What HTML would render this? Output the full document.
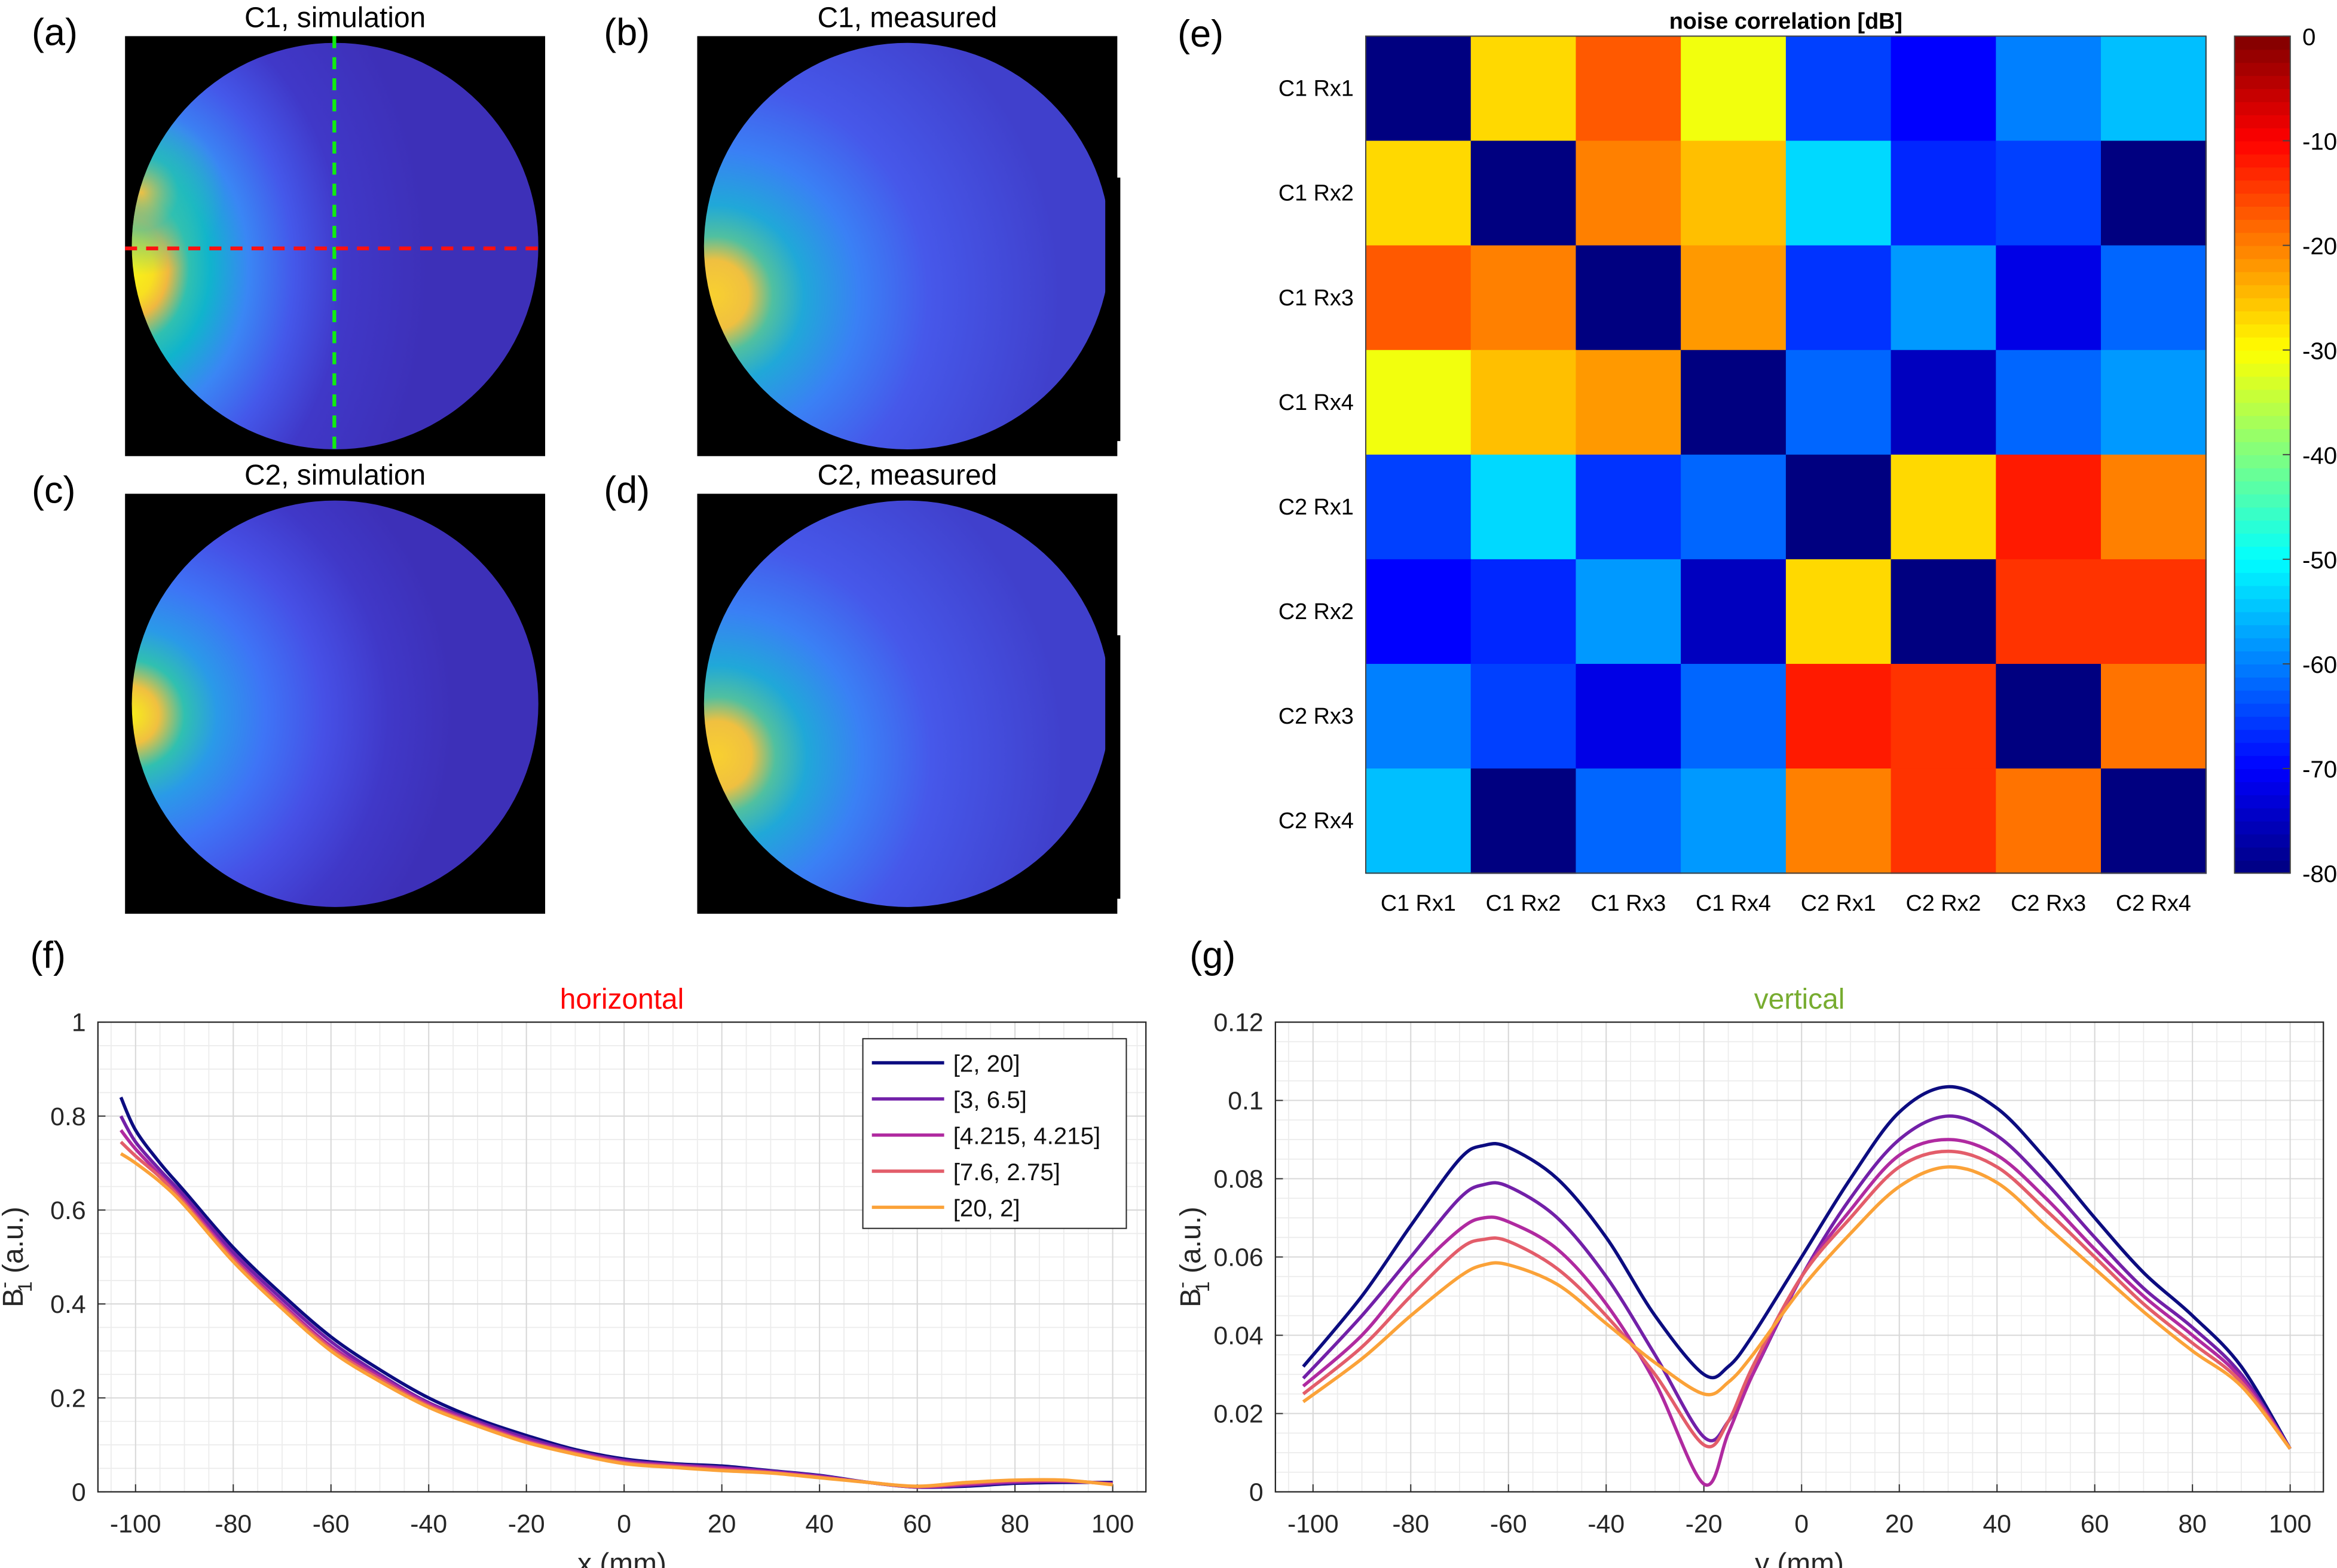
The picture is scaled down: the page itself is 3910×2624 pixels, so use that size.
<!DOCTYPE html>
<html><head><meta charset="utf-8">
<style>
html,body{margin:0;padding:0;background:#fff;}
svg{display:block;font-family:"Liberation Sans",Arial,sans-serif;}
</style></head>
<body>
<svg id="fig" width="3910" height="2624" viewBox="0 0 1552 1041.6" xmlns="http://www.w3.org/2000/svg">
<defs>
<radialGradient id="hotA" cx="86" cy="178" r="220" gradientUnits="userSpaceOnUse" gradientTransform="translate(86 178) scale(0.9 1.15) translate(-86 -178)">
<stop offset="0" stop-color="#f8f518"/><stop offset="0.08" stop-color="#f8e020"/><stop offset="0.13" stop-color="#f0b840"/><stop offset="0.2" stop-color="#30c0b0"/><stop offset="0.27" stop-color="#10b4cc"/><stop offset="0.4" stop-color="#3a86f4"/><stop offset="0.55" stop-color="#4458ea"/><stop offset="0.72" stop-color="#4038c8"/><stop offset="1" stop-color="#3d30b8"/></radialGradient>
<radialGradient id="hotA2" cx="94" cy="128" r="55" gradientUnits="userSpaceOnUse">
<stop offset="0" stop-color="#f5c040" stop-opacity="0.95"/><stop offset="0.45" stop-color="#30c0b0" stop-opacity="0.6"/><stop offset="1" stop-color="#30c0b0" stop-opacity="0"/></radialGradient>
<radialGradient id="hotB" cx="474" cy="196" r="230" gradientUnits="userSpaceOnUse">
<stop offset="0" stop-color="#f8d030"/><stop offset="0.1" stop-color="#f0c040"/><stop offset="0.17" stop-color="#50c0a0"/><stop offset="0.26" stop-color="#20a8d8"/><stop offset="0.42" stop-color="#3a80f5"/><stop offset="0.62" stop-color="#4658ea"/><stop offset="1" stop-color="#4040cc"/></radialGradient>
<radialGradient id="hotC" cx="86" cy="475" r="215" gradientUnits="userSpaceOnUse">
<stop offset="0" stop-color="#f8f018"/><stop offset="0.09" stop-color="#f0c040"/><stop offset="0.17" stop-color="#30c0b0"/><stop offset="0.27" stop-color="#2a9ae8"/><stop offset="0.42" stop-color="#3e74f6"/><stop offset="0.6" stop-color="#4650e6"/><stop offset="0.8" stop-color="#4038c8"/><stop offset="1" stop-color="#3d30b8"/></radialGradient>
<radialGradient id="hotD" cx="476" cy="502" r="230" gradientUnits="userSpaceOnUse">
<stop offset="0" stop-color="#f8d030"/><stop offset="0.1" stop-color="#f0c040"/><stop offset="0.17" stop-color="#50c0a0"/><stop offset="0.26" stop-color="#20a8d8"/><stop offset="0.42" stop-color="#3a80f5"/><stop offset="0.62" stop-color="#4658ea"/><stop offset="1" stop-color="#4040cc"/></radialGradient>
</defs>
<g id="images"></g>
<g id="heat"></g>
<g id="plotf"></g>
<g id="plotg"></g>
</svg>
<script>
// ===== Heatmap data =====
const heatLabels = ["C1 Rx1","C1 Rx2","C1 Rx3","C1 Rx4","C2 Rx1","C2 Rx2","C2 Rx3","C2 Rx4"];
const heatRow1 = [-80,-27,-17,-31,-65,-70,-60,-55];
const heatRow2 = [-27,-80,-20,-25,-53,-67,-65,-80];
const heatRow3 = [-17,-20,-80,-22,-66,-58,-72,-62];
const heatRow4 = [-31,-25,-22,-80,-62,-75,-62,-58];
const heatRow5 = [-65,-53,-66,-62,-80,-27,-12,-20];
const heatRow6 = [-70,-67,-58,-75,-27,-80,-14,-14];
const heatRow7 = [-60,-65,-72,-62,-12,-14,-80,-19];
const heatRow8 = [-55,-80,-62,-58,-20,-14,-19,-80];
const colorbarTicks = [0,-10,-20,-30,-40,-50,-60,-70,-80];

// ===== Horizontal profile data =====
const hX = [-103,-100,-95,-90,-80,-70,-60,-50,-40,-30,-20,-10,0,10,20,30,40,50,60,70,80,90,100];
const h_2_20   = [0.84,0.77,0.70,0.64,0.52,0.42,0.33,0.26,0.20,0.155,0.12,0.09,0.07,0.06,0.055,0.045,0.035,0.02,0.01,0.012,0.018,0.02,0.02];
const h_3_65   = [0.80,0.745,0.685,0.63,0.51,0.41,0.32,0.25,0.19,0.15,0.115,0.087,0.067,0.058,0.052,0.044,0.034,0.02,0.01,0.014,0.02,0.022,0.018];
const h_4_4    = [0.77,0.73,0.675,0.62,0.50,0.40,0.31,0.245,0.187,0.146,0.11,0.084,0.064,0.056,0.05,0.042,0.032,0.02,0.011,0.016,0.022,0.023,0.017];
const h_76_275 = [0.745,0.715,0.67,0.615,0.495,0.395,0.305,0.24,0.183,0.143,0.107,0.082,0.062,0.054,0.047,0.041,0.031,0.02,0.011,0.018,0.024,0.024,0.016];
const h_20_2   = [0.72,0.70,0.66,0.61,0.49,0.39,0.30,0.235,0.18,0.14,0.105,0.08,0.06,0.052,0.045,0.04,0.03,0.02,0.012,0.02,0.025,0.025,0.015];
const hTicksX = [-100,-80,-60,-40,-20,0,20,40,60,80,100];
const hTicksY = [0,0.2,0.4,0.6,0.8,1];
const legendLabels = ["[2, 20]","[3, 6.5]","[4.215, 4.215]","[7.6, 2.75]","[20, 2]"];

// ===== Vertical profile data =====
const vX = [-102,-90,-80,-70,-65,-60,-50,-40,-30,-20,-15,-10,0,10,20,30,40,50,60,70,80,90,100];
const v_2_20   = [0.032,0.05,0.068,0.085,0.0885,0.088,0.08,0.065,0.045,0.03,0.032,0.04,0.06,0.08,0.097,0.1035,0.098,0.085,0.07,0.056,0.045,0.032,0.011];
const v_3_65   = [0.029,0.045,0.06,0.075,0.0785,0.078,0.07,0.055,0.035,0.014,0.018,0.03,0.055,0.075,0.09,0.096,0.091,0.079,0.065,0.052,0.042,0.03,0.011];
const v_4_4    = [0.027,0.04,0.055,0.067,0.07,0.069,0.062,0.048,0.028,0.002,0.015,0.03,0.055,0.072,0.086,0.09,0.086,0.075,0.062,0.05,0.04,0.029,0.011];
const v_76_275 = [0.025,0.037,0.05,0.062,0.0645,0.064,0.057,0.045,0.03,0.012,0.018,0.032,0.055,0.07,0.083,0.087,0.083,0.072,0.06,0.048,0.038,0.028,0.011];
const v_20_2   = [0.023,0.034,0.045,0.055,0.058,0.058,0.053,0.043,0.033,0.025,0.028,0.035,0.052,0.066,0.078,0.083,0.079,0.068,0.057,0.046,0.036,0.027,0.011];
const vTicksX = [-100,-80,-60,-40,-20,0,20,40,60,80,100];
const vTicksY = [0,0.02,0.04,0.06,0.08,0.1,0.12];

const seriesColors = ["#0c0c80","#7220a8","#b02aa0","#e35d6a","#fba238"];
const NS = "http://www.w3.org/2000/svg";
function mk(tag, attrs, parent, text){
  const e = document.createElementNS(NS, tag);
  for (const k in attrs) e.setAttribute(k, attrs[k]);
  if (text !== undefined) e.textContent = text;
  parent.appendChild(e);
  return e;
}
function jet(v){
  const r = Math.min(Math.max(Math.min(4*v-1.5, -4*v+4.5),0),1);
  const g = Math.min(Math.max(Math.min(4*v-0.5, -4*v+3.5),0),1);
  const b = Math.min(Math.max(Math.min(4*v+0.5, -4*v+2.5),0),1);
  return `rgb(${Math.round(r*255)},${Math.round(g*255)},${Math.round(b*255)})`;
}

// ===== Images =====
const imgs = document.getElementById('images');
const panels = [
  {x:83,y:24,lab:"(a)",title:"C1, simulation",g:"hotA",name:"c1-simulation"},
  {x:463,y:24,lab:"(b)",title:"C1, measured",g:"hotB",name:"c1-measured"},
  {x:83,y:328,lab:"(c)",title:"C2, simulation",g:"hotC",name:"c2-simulation"},
  {x:463,y:328,lab:"(d)",title:"C2, measured",g:"hotD",name:"c2-measured"}];
panels.forEach(p=>{
  const g = mk('g',{},imgs);
  
  
  mk('rect',{x:p.x,y:p.y,width:279,height:279,fill:'#000'},g);
  mk('circle',{cx:p.x+139.5,cy:p.y+139.5,r:135,fill:'url(#'+p.g+')'},g);
  if (p.g==='hotA') mk('circle',{cx:p.x+139.5,cy:p.y+139.5,r:135,fill:'url(#hotA2)'},g);
  const t = mk('text',{x:p.x+139.5,y:p.y-6,'text-anchor':'middle','font-size':19},g,p.title);
  
  
  const l = mk('text',{x:p.x-62,y:p.y+6,'font-size':25},g,p.lab);
  
  
});
mk('rect',{x:734,y:118,width:10,height:175,fill:'#000'},imgs);
mk('rect',{x:734,y:422,width:10,height:175,fill:'#000'},imgs);
const vl = mk('line',{x1:222,y1:24,x2:222,y2:303,stroke:'#10ee10','stroke-width':2.5,'stroke-dasharray':'8,6'},imgs);


const hl = mk('line',{x1:83,y1:165,x2:362,y2:165,stroke:'#ff1010','stroke-width':2.5,'stroke-dasharray':'8,6'},imgs);



// ===== Heatmap =====
const heat = document.getElementById('heat');
const hm = {x0:907,y0:24,x1:1465,y1:580};
const rows = [heatRow1,heatRow2,heatRow3,heatRow4,heatRow5,heatRow6,heatRow7,heatRow8];
const cw = (hm.x1-hm.x0)/heatLabels.length, ch = (hm.y1-hm.y0)/rows.length;
const cmin=-80,cmax=0;
rows.forEach((row,i)=>{
  row.forEach((v,j)=>{
    const r = mk('rect',{x:hm.x0+j*cw,y:hm.y0+i*ch,width:cw+0.5,height:ch+0.5,fill:jet((v-cmin)/(cmax-cmin))},heat);
    
    
  });
});
mk('rect',{x:hm.x0,y:hm.y0,width:hm.x1-hm.x0,height:hm.y1-hm.y0,fill:'none',stroke:'#444','stroke-width':0.8},heat);
heatLabels.forEach((s,i)=>{
  const t = mk('text',{x:hm.x0-8,y:hm.y0+(i+0.5)*ch+5,'text-anchor':'end','font-size':15},heat,s);
  
  
  const c = mk('text',{x:hm.x0+(i+0.5)*cw,y:hm.y1+25,'text-anchor':'middle','font-size':15},heat,s);
  
  
});
const ht = mk('text',{x:(hm.x0+hm.x1)/2,y:19,'text-anchor':'middle','font-size':15,'font-weight':'bold'},heat,'noise correlation [dB]');


const el = mk('text',{x:782,y:31,'font-size':25},heat,'(e)');


const cb = {x:1484,w:37,y0:24,y1:580};
const cbg = mk('g',{},heat);


const nsteps=64;
for(let k=0;k<nsteps;k++){
  const y = cb.y1-(k+1)*(cb.y1-cb.y0)/nsteps;
  mk('rect',{x:cb.x,y:y,width:cb.w,height:(cb.y1-cb.y0)/nsteps+0.4,fill:jet((k+0.5)/nsteps)},cbg);
}
mk('rect',{x:cb.x,y:cb.y0,width:cb.w,height:cb.y1-cb.y0,fill:'none',stroke:'#444','stroke-width':0.8},cbg);
colorbarTicks.forEach(v=>{
  const y = cb.y1-(v-cmin)/(cmax-cmin)*(cb.y1-cb.y0);
  mk('line',{x1:cb.x+cb.w-5,x2:cb.x+cb.w,y1:y,y2:y,stroke:'#444','stroke-width':0.8},cbg);
  const t = mk('text',{x:cb.x+cb.w+8,y:y+6,'font-size':16},cbg,String(v));
  
  
});

// ===== Line plots =====
function smoothPath(pts){
  let d = `M${pts[0][0]},${pts[0][1]}`;
  for(let i=0;i<pts.length-1;i++){
    const p0=pts[Math.max(i-1,0)],p1=pts[i],p2=pts[i+1],p3=pts[Math.min(i+2,pts.length-1)];
    const c1=[p1[0]+(p2[0]-p0[0])/6,p1[1]+(p2[1]-p0[1])/6];
    const c2=[p2[0]-(p3[0]-p1[0])/6,p2[1]-(p3[1]-p1[1])/6];
    d+=` C${c1[0]},${c1[1]} ${c2[0]},${c2[1]} ${p2[0]},${p2[1]}`;
  }
  return d;
}
function linePlot(opt){
  const g = document.getElementById(opt.id);
  const L=opt.box[0],T=opt.box[1],R=opt.box[2],B=opt.box[3];
  const sx = v=>L+(v-opt.xd[0])/(opt.xd[1]-opt.xd[0])*(R-L);
  const sy = v=>B-(v-opt.yd[0])/(opt.yd[1]-opt.yd[0])*(B-T);
  mk('rect',{x:L,y:T,width:R-L,height:B-T,fill:'#fff'},g);
  for(let v=Math.ceil(opt.xd[0]/5)*5; v<=opt.xd[1]; v+=5){
    mk('line',{x1:sx(v),x2:sx(v),y1:T,y2:B,stroke:'#ececec','stroke-width':0.7},g);
  }
  const ystep=(opt.yTicks[1]-opt.yTicks[0])/4;
  for(let k=0; opt.yd[0]+k*ystep<=opt.yd[1]+1e-9; k++){
    const y=sy(opt.yd[0]+k*ystep);
    mk('line',{x1:L,x2:R,y1:y,y2:y,stroke:'#ececec','stroke-width':0.7},g);
  }
  opt.xTicks.forEach(v=>{
    mk('line',{x1:sx(v),x2:sx(v),y1:T,y2:B,stroke:'#d8d8d8','stroke-width':0.8},g);
    mk('line',{x1:sx(v),x2:sx(v),y1:B,y2:B-5,stroke:'#333','stroke-width':0.8},g);
    const t = mk('text',{x:sx(v),y:B+27,'text-anchor':'middle','font-size':17,fill:'#262626'},g,String(v));
    
    
  });
  opt.yTicks.forEach(v=>{
    mk('line',{x1:L,x2:R,y1:sy(v),y2:sy(v),stroke:'#d8d8d8','stroke-width':0.8},g);
    mk('line',{x1:L,x2:L+5,y1:sy(v),y2:sy(v),stroke:'#333','stroke-width':0.8},g);
    const t = mk('text',{x:L-8,y:sy(v)+6,'text-anchor':'end','font-size':17,fill:'#262626'},g,String(v));
    
    
  });
  mk('rect',{x:L,y:T,width:R-L,height:B-T,fill:'none',stroke:'#262626','stroke-width':0.9},g);
  opt.series.forEach((s,i)=>{
    const pts = opt.xs.map((x,k)=>[sx(x),sy(s[k])]);
    const p = mk('path',{d:smoothPath(pts),fill:'none',stroke:seriesColors[i],'stroke-width':2.2},g);
    
    
  });
  const tt = mk('text',{x:(L+R)/2,y:T-9,'text-anchor':'middle','font-size':19,fill:opt.tcolor},g,opt.title);
  
  
  const xl = mk('text',{x:(L+R)/2,y:B+54,'text-anchor':'middle','font-size':19,fill:'#262626'},g,opt.xlabel);
  
  
  const yl = mk('text',{transform:`translate(${L-50},${(T+B)/2}) rotate(-90)`,'text-anchor':'middle','font-size':19,fill:'#262626'},g);
  
  
  mk('tspan',{},yl,'B');
  mk('tspan',{'font-size':13,dy:-8},yl,'-');
  mk('tspan',{'font-size':13,dx:-7,dy:14},yl,'1');
  mk('tspan',{dy:-6},yl,' (a.u.)');
  const pl = mk('text',{x:opt.plx,y:643,'font-size':25},g,opt.pl);
  
  
  return {g,sx,sy};
}
const f = linePlot({id:'plotf',box:[65,679,761,991],xd:[-107.7,106.8],yd:[0,1],xTicks:hTicksX,yTicks:hTicksY,
  xs:hX,series:[h_2_20,h_3_65,h_4_4,h_76_275,h_20_2],title:'horizontal',tcolor:'#ff0000',xlabel:'x (mm)',pl:'(f)',plx:20});
linePlot({id:'plotg',box:[847,679,1543,991],xd:[-107.7,106.8],yd:[0,0.12],xTicks:vTicksX,yTicks:vTicksY,
  xs:vX,series:[v_2_20,v_3_65,v_4_4,v_76_275,v_20_2],title:'vertical',tcolor:'#77ac30',xlabel:'y (mm)',pl:'(g)',plx:790});
const lg = mk('g',{},f.g);


mk('rect',{x:573,y:690,width:175,height:126,fill:'#fff',stroke:'#262626','stroke-width':0.8},lg);
legendLabels.forEach((s,i)=>{
  const y = 706+i*24;
  mk('line',{x1:579,x2:627,y1:y,y2:y,stroke:seriesColors[i],'stroke-width':2.2},lg);
  const t = mk('text',{x:633,y:y+6,'font-size':16,fill:'#111'},lg,s);
  
  
});
</script>
</body></html>
